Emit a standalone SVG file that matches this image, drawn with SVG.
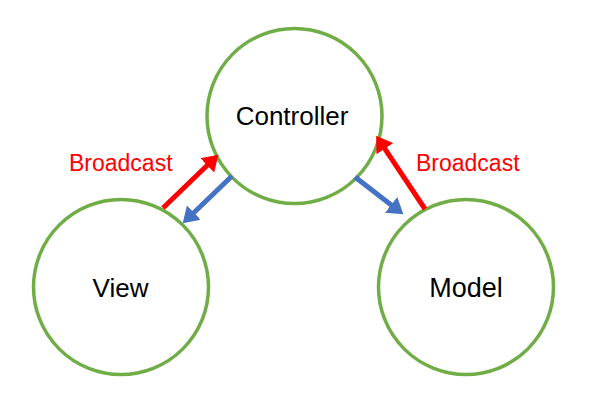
<svg xmlns="http://www.w3.org/2000/svg" width="591" height="416" viewBox="0 0 591 416">
<style>
.node{fill:#fff;stroke:#70AD47;stroke-width:3.5}
.lbl{font-family:"Liberation Sans",Arial,sans-serif;font-size:26px;fill:#000;text-anchor:middle}
.bc{font-family:"Liberation Sans",Arial,sans-serif;font-size:23px;fill:#FF0000}
.red{stroke:#FF0000;stroke-width:5;fill:none}
.blue{stroke:#4472C4;stroke-width:5;fill:none}
</style>
<defs>
<marker id="ahR" markerUnits="userSpaceOnUse" markerWidth="16" markerHeight="21" refX="3" refY="10.5" orient="auto" viewBox="0 0 16 21">
<path d="M0,0.5 L15.5,10.5 L0,20.5 z" fill="#FF0000"/>
</marker>
<marker id="ahB" markerUnits="userSpaceOnUse" markerWidth="16" markerHeight="21" refX="3" refY="10.5" orient="auto" viewBox="0 0 16 21">
<path d="M0,0.5 L15.5,10.5 L0,20.5 z" fill="#4472C4"/>
</marker>
</defs>
<rect width="591" height="416" fill="#fff"/>
<g id="controller">
<circle class="node" cx="294.5" cy="116" r="87.5"/>
<text class="lbl" x="292" y="125">Controller</text>
</g>
<g id="view">
<circle class="node" cx="121" cy="287" r="87.5"/>
<text class="lbl" x="120.5" y="297">View</text>
</g>
<g id="model">
<circle class="node" cx="466" cy="287" r="87.5"/>
<text class="lbl" x="466" y="297" style="font-size:27px">Model</text>
</g>
<g id="connectors">
<line class="red" x1="163" y1="208" x2="209.4" y2="163.3" marker-end="url(#ahR)"/>
<line class="blue" x1="232" y1="176" x2="191.7" y2="214.7" marker-end="url(#ahB)"/>
<line class="blue" x1="355" y1="177" x2="393.5" y2="206.7" marker-end="url(#ahB)"/>
<line class="red" x1="425" y1="209" x2="383.1" y2="146.2" marker-end="url(#ahR)"/>
<text class="bc" x="69" y="171">Broadcast</text>
<text class="bc" x="416" y="171">Broadcast</text>
</g>
</svg>
